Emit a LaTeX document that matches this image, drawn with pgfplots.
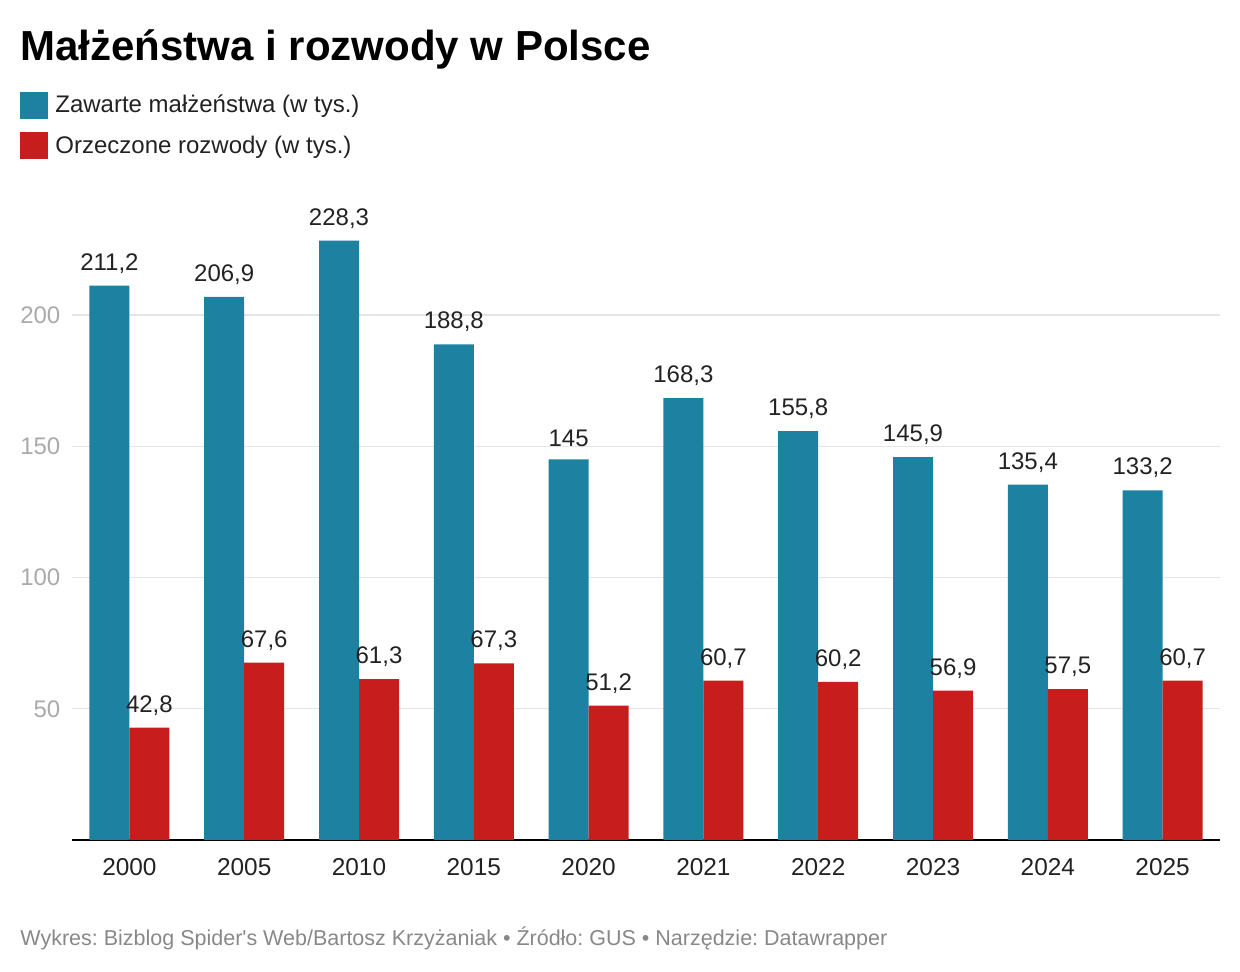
\documentclass[border=0pt]{standalone}
\usepackage{fontspec}
\setmainfont{Liberation Sans}
\newfontfamily\footfont{Liberation Sans}
\usepackage{pgfplots}
\pgfplotsset{compat=1.18}
\definecolor{cblue}{HTML}{1D81A2}
\definecolor{cred}{HTML}{C71E1D}
\definecolor{gridc}{HTML}{E5E5E5}
\definecolor{tickgray}{HTML}{AAAAAA}
\definecolor{foot}{HTML}{888888}
\definecolor{lab}{HTML}{222222}
\frenchspacing
\begin{document}
\begin{tikzpicture}[x=1pt,y=1pt]
\path[use as bounding box] (0,0) rectangle (620,486);
\node[anchor=base west, inner sep=0pt] at (10,455.5) {\fontsize{21}{25}\selectfont\bfseries Małżeństwa i rozwody w Polsce};
\fill[cblue] (10,426.5) rectangle (24,440);
\fill[cred] (10,406.5) rectangle (24,420);
\node[anchor=base west, inner sep=0pt, text=lab] at (27.5,429.5) {\fontsize{12}{14}\selectfont Zawarte małżeństwa (w tys.)};
\node[anchor=base west, inner sep=0pt, text=lab] at (27.5,409) {\fontsize{12}{14}\selectfont Orzeczone rozwody (w tys.)};
\node[anchor=base west, inner sep=0pt, text=foot] at (10,13) {\footfont\fontsize{10.75}{13}\selectfont Wykres: Bizblog Spider's Web/Bartosz Krzyżaniak • Źródło: GUS • Narzędzie: Datawrapper};
\begin{axis}[
  at={(36pt,66pt)}, anchor=south west, scale only axis,
  width=574pt, height=315pt,
  xmin=-0.5, xmax=9.5, ymin=0, ymax=240,
  axis line style={draw=none},
  major tick length=0pt,
  ytick={50,100,150,200},
  ymajorgrids, major grid style={gridc, line width=0.6pt},
  extra y ticks={0}, extra y tick labels={},
  extra y tick style={grid=major, major grid style={black, line width=1.1pt}},
  xtick={0,1,2,3,4,5,6,7,8,9},
  xticklabels={2000,2005,2010,2015,2020,2021,2022,2023,2024,2025},
  /pgf/number format/assume math mode=true,
  /pgf/number format/use comma,
  /pgf/number format/1000 sep={},
  yticklabel style={font=\fontsize{12}{14}\selectfont, text=tickgray, xshift=-2.3pt},
  xticklabel style={font=\fontsize{12.2}{14}\selectfont, text=lab, yshift=-5.5pt},
  nodes near coords,
  every node near coord/.append style={font=\fontsize{12}{14}\selectfont, text=lab, inner sep=3pt, yshift=3pt},
  clip=false,
]
\addplot[ybar, bar width=20pt, bar shift=-10pt, fill=cblue, draw=none,
  every node near coord/.append style={xshift=-10pt}] coordinates {
(0,211.2) (1,206.9) (2,228.3) (3,188.8) (4,145) (5,168.3) (6,155.8) (7,145.9) (8,135.4) (9,133.2)};
\addplot[ybar, bar width=20pt, bar shift=10pt, fill=cred, draw=none,
  every node near coord/.append style={xshift=10pt}] coordinates {
(0,42.8) (1,67.6) (2,61.3) (3,67.3) (4,51.2) (5,60.7) (6,60.2) (7,56.9) (8,57.5) (9,60.7)};
\end{axis}
\end{tikzpicture}
\end{document}
